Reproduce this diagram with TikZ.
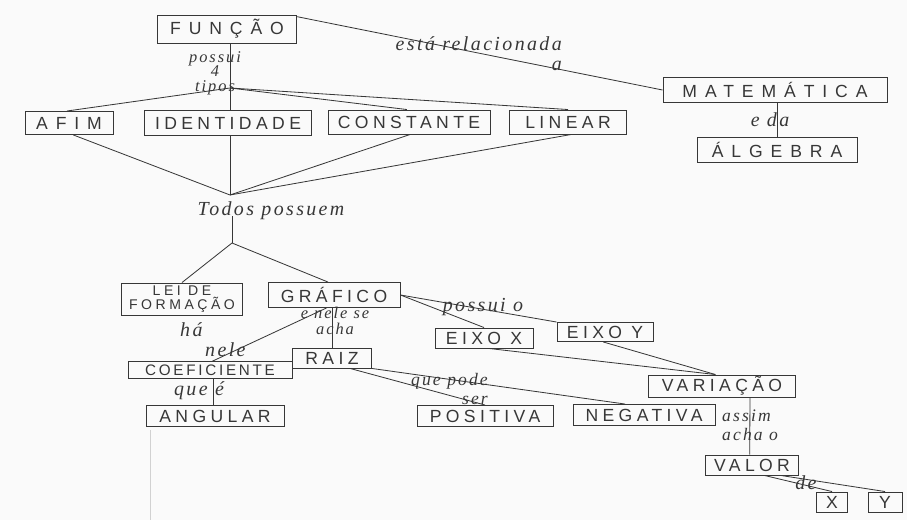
\documentclass[tikz,border=0pt]{standalone}
\usepackage{fontspec}
\setmainfont{Liberation Sans}
\newfontfamily\caixa{Liberation Sans}[LetterSpace=25]
\newfontfamily\cursiva{Liberation Serif}[LetterSpace=12]

\begin{document}
\begin{tikzpicture}[
  x=0.03cm, y=-0.03cm,
  conceito/.style={draw=tinta, line width=0.8pt, text=tinta, inner sep=1pt,
    align=center, font=\caixa\fontsize{15}{16}\selectfont},
  amplo/.style={font=\caixa\fontsize{15}{16}\selectfont\addfontfeature{LetterSpace=45}},
  miudo/.style={font=\caixa\fontsize{13}{14}\selectfont\addfontfeature{LetterSpace=18}},
  ligacao/.style={text=tinta, inner sep=0pt, align=center,
    font=\cursiva\itshape\fontsize{17}{17}\selectfont},
  linha/.style={draw=tinta, line width=0.7pt}
]

\definecolor{tinta}{RGB}{55,55,55}
\definecolor{papel}{RGB}{250,250,250}

\fill[papel] (0,0) rectangle (907,520);
% margem do caderno
\draw[black!18, line width=0.6pt] (150,430) -- (150,520);

% topo
\node[conceito, amplo, minimum width=4.17cm, minimum height=0.84cm] (funcao) at (227,29) {FUNÇÃO};
\node[conceito, amplo, minimum width=6.72cm, minimum height=0.75cm] (matematica) at (775,90) {MATEMÁTICA};
\node[conceito, amplo, minimum width=4.8cm, minimum height=0.75cm] (algebra) at (777,150) {ÁLGEBRA};

\node[ligacao, align=right, anchor=east] (rel) at (562,54) {está relacionada\\a};
\node[ligacao] (eda) at (770,120) {e da};
\node[ligacao, font=\cursiva\itshape\fontsize{14}{12.5}\selectfont] (tiposlbl) at (215,73) {possui\\4\\tipos};
\coordinate (tipos) at (230,88);

% tipos de função
\node[conceito, amplo, minimum width=2.64cm, minimum height=0.69cm] (afim) at (69,123) {AFIM};
\node[conceito, minimum width=5.0cm, minimum height=0.75cm] (identidade) at (228,123) {IDENTIDADE};
\node[conceito, minimum width=4.86cm, minimum height=0.72cm] (constante) at (409,122) {CONSTANTE};
\node[conceito, minimum width=3.5cm, minimum height=0.72cm] (linear) at (568,122) {LINEAR};

\coordinate (todos) at (230,195);
\node[ligacao] (possuem) at (271,211) {Todos possuem};
\coordinate (ramo) at (232,243);

% o que todos possuem
\node[conceito, minimum width=3.63cm, minimum height=0.96cm,
  font=\caixa\fontsize{12}{12}\selectfont] (lei) at (182,299) {LEI DE\\FORMAÇÃO};
\node[conceito, minimum width=3.96cm, minimum height=0.75cm] (grafico) at (334,295) {GRÁFICO};

\node[conceito, minimum width=2.94cm, minimum height=0.6cm] (eixox) at (484,338) {EIXO X};
\node[conceito, minimum width=2.88cm, minimum height=0.57cm] (eixoy) at (605,332) {EIXO Y};
\node[ligacao] (possuio) at (483,307) {possui o};

\node[conceito, miudo, minimum width=4.92cm, minimum height=0.5cm] (coef) at (210,370) {COEFICIENTE};
\node[conceito, minimum width=2.37cm, minimum height=0.6cm] (raiz) at (332,358) {RAIZ};
\node[ligacao, align=left, anchor=west] (hanele) at (180,340) {há\\\hspace*{0.75cm}nele};
\node[ligacao, font=\cursiva\itshape\fontsize{14}{13}\selectfont] (nelese) at (335,321) {e nele se\\acha};

\node[conceito, minimum width=4.14cm, minimum height=0.63cm] (angular) at (215,416) {ANGULAR};
\node[ligacao] (quee) at (199,391) {que é};
\node[conceito, minimum width=4.08cm, minimum height=0.63cm] (positiva) at (485,416) {POSITIVA};
\node[conceito, minimum width=4.26cm, minimum height=0.63cm] (negativa) at (644,415) {NEGATIVA};
\node[ligacao, align=right, anchor=east, font=\cursiva\itshape\fontsize{15}{16}\selectfont] (quepode) at (488,389) {que pode\\ser};

\node[conceito, minimum width=4.41cm, minimum height=0.66cm] (variacao) at (722,386) {VARIAÇÃO};
\node[ligacao, align=left, anchor=west, font=\cursiva\itshape\fontsize{15}{16}\selectfont] (assim) at (722,425) {assim\\acha o};
\node[conceito, minimum width=2.79cm, minimum height=0.6cm] (valor) at (752,465) {VALOR};
\node[ligacao] (de) at (806,483) {de};
\node[conceito, minimum width=0.93cm, minimum height=0.6cm] (x) at (832,502) {X};
\node[conceito, minimum width=1.02cm, minimum height=0.6cm] (y) at (885,502) {Y};

% ligações
\draw[linha] (funcao.10) -- (matematica.west);
\draw[linha] (matematica.south -| algebra.north) -- (algebra.north);
\draw[linha] (funcao.south -| tipos) -- (tipos);
\draw[linha] (tipos) -- (afim.100);
\draw[linha] (tipos) -- (identidade.north -| tipos);
\draw[linha] (tipos) -- (constante.100);
\draw[linha] (tipos) -- (linear.north);

\draw[linha] (afim.-70) -- (todos);
\draw[linha] (identidade.south -| todos) -- (todos);
\draw[linha] (constante.-85) -- (todos);
\draw[linha] (linear.-75) -- (todos);

\draw[linha] (possuem.south -| ramo) ++(0,-4) -- (ramo);
\draw[linha] (ramo) -- (lei.north);
\draw[linha] (ramo) -- (grafico.115);

\draw[linha] (grafico.east) -- (eixox.north);
\draw[linha] (grafico.east) -- (eixoy.north west);
\draw[linha] (grafico.-120) -- (coef.75);
\draw[linha] (grafico.south -| raiz.north) -- (raiz.north);
\draw[linha] (coef.south -| angular.100) -- (angular.100);

\draw[linha] (raiz.-30) -- (positiva.north);
\draw[linha] (raiz.south east) -- (negativa.150);

\draw[linha] (eixox.-65) -- (variacao.120);
\draw[linha] (eixoy.-100) -- (variacao.120);
\draw[linha] (variacao.south -| valor.north) ++(-2,0) -- ([xshift=-2]valor.north);
\draw[linha] (valor.-40) -- (x.north);
\draw[linha] (valor.-20) -- (y.north);

\end{tikzpicture}
\end{document}
